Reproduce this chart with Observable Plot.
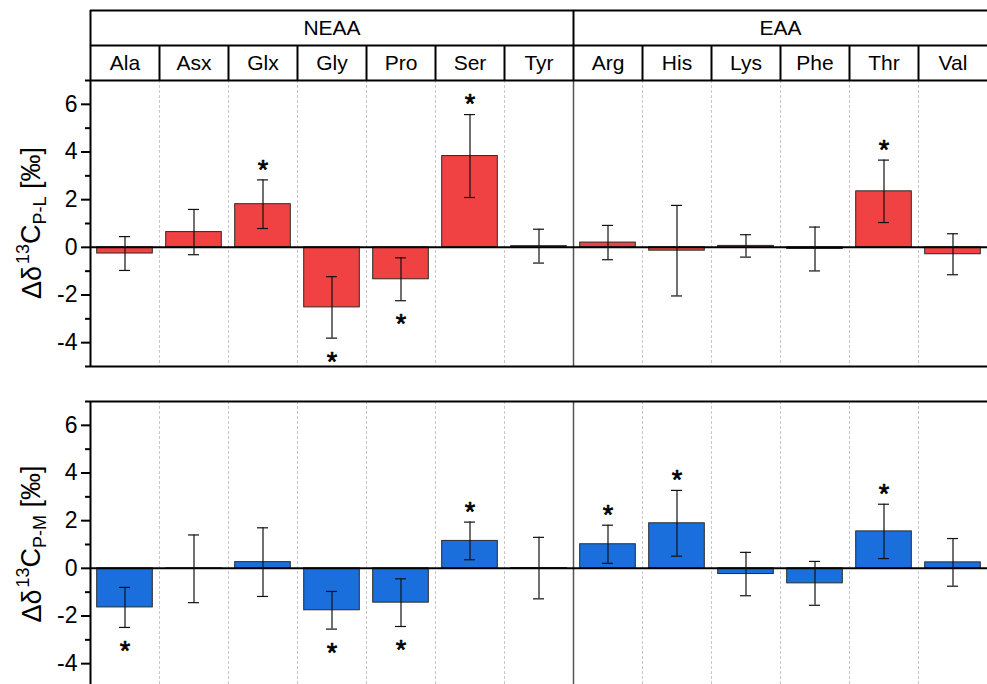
<!DOCTYPE html>
<html><head><meta charset="utf-8">
<script src="https://cdn.jsdelivr.net/npm/d3@7"></script>
<script src="https://cdn.jsdelivr.net/npm/@observablehq/plot@0.6"></script>
<style>
html,body{margin:0;padding:0;background:#fff;overflow:hidden;}
#wrap{position:relative;width:987px;height:684px;overflow:hidden;}
#wrap svg{position:absolute;left:0;overflow:visible;}
</style></head><body><div id="wrap"></div>
<script>
const groups = ["NEAA", "EAA"];
const groupSizes = [7, 6];
const aminoAcids = ["Ala","Asx","Glx","Gly","Pro","Ser","Tyr","Arg","His","Lys","Phe","Thr","Val"];
const plValues = [-0.26, 0.64, 1.81, -2.52, -1.34, 3.83, 0.05, 0.20, -0.14, 0.06, -0.07, 2.35, -0.29];
const plErrors = [0.71, 0.95, 1.02, 1.29, 0.90, 1.74, 0.71, 0.72, 1.90, 0.47, 0.92, 1.31, 0.86];
const plSignif = [0, 0, 1, -1, -1, 1, 0, 0, 0, 0, 0, 1, 0];
const pmValues = [-1.64, -0.02, 0.26, -1.76, -1.44, 1.15, 0.01, 1.01, 1.89, -0.24, -0.63, 1.55, 0.25];
const pmErrors = [0.84, 1.42, 1.44, 0.79, 1.00, 0.79, 1.29, 0.80, 1.38, 0.91, 0.92, 1.14, 1.00];
const pmSignif = [-1, 0, 0, -1, -1, 1, 0, 1, 1, 0, 0, 1, 0];
const yTicks = [-4, -2, 0, 2, 4, 6];
const yMinorTicks = [-5, -3, -1, 1, 3, 5, 7];
const yDomain = [-5, 7];

const FONT = "Liberation Sans, Arial, Helvetica, sans-serif";
const W = 987, ML = 90;
const wrap = document.getElementById("wrap");

// ---------- header ----------
const cum = d3.cumsum(groupSizes);
const groupData = groups.map((g, i) => ({g, x1: cum[i] - groupSizes[i], x2: cum[i]}));
const aaData = aminoAcids.map((aa, i) => ({aa, i}));
const groupEdges = [0, ...cum.slice(0, -1)];
const aaEdges = d3.range(1, aminoAcids.length).filter(i => !groupEdges.includes(i));

const header = Plot.plot({
  width: W, height: 80, marginLeft: ML, marginRight: 0, marginTop: 10, marginBottom: 0,
  x: {domain: [0, aminoAcids.length], axis: null},
  y: {domain: [0, 2], range: [10, 80], axis: null},
  style: {fontFamily: FONT, background: "transparent"},
  marks: [
    Plot.ruleY([0, 1], {x1: 0, x2: aminoAcids.length, stroke: "#000", strokeWidth: 2}),
    Plot.ruleX(groupEdges, {y1: 0, y2: 2, stroke: "#000", strokeWidth: 2}),
    Plot.ruleX(aaEdges, {y1: 1, y2: 2, stroke: "#000", strokeWidth: 2}),
    Plot.text(groupData, {x: d => (d.x1 + d.x2) / 2, y: 0.5, text: "g", fontSize: 21, fill: "#000"}),
    Plot.text(aaData, {x: d => d.i + 0.5, y: 1.5, text: "aa", fontSize: 21, fill: "#000"})
  ]
});
header.style.top = "0px";
wrap.appendChild(header);

// ---------- panels ----------
function panel({values, errors, signif, colour, sub, top, bottomLine}) {
  const data = aminoAcids.map((aa, i) => ({aa, v: values[i], e: errors[i], s: signif[i]}));
  const bw = (W - ML) / aminoAcids.length;
  const capInset = (bw - 11) / 2;
  const groupStarts = groupEdges.slice(1).map(i => aminoAcids[i]);
  const chart = Plot.plot({
    width: W, height: 306, marginLeft: ML, marginRight: 0, marginTop: 10, marginBottom: 10,
    x: {type: "band", domain: aminoAcids, padding: 0, axis: null},
    y: {domain: yDomain, axis: null},
    style: {fontFamily: FONT, background: "transparent"},
    marks: [
      Plot.ruleX(aminoAcids.slice(1).filter(a => !groupStarts.includes(a)),
        {dx: -bw / 2, stroke: "#c8c8c8", strokeWidth: 1, strokeDasharray: "3,2"}),
      Plot.ruleX(groupStarts, {dx: -bw / 2, stroke: "#555", strokeWidth: 1.5}),
      Plot.barY(data, {x: "aa", y: "v", fill: colour, stroke: "#2a2a2a", strokeWidth: 1,
        insetLeft: 6.7, insetRight: 6.7}),
      Plot.ruleY([0], {stroke: "#000", strokeWidth: 2}),
      Plot.ruleX(data, {x: "aa", y1: d => d.v - d.e, y2: d => d.v + d.e, stroke: "#111", strokeWidth: 1.2}),
      Plot.tickY(data, {x: "aa", y: d => d.v + d.e, insetLeft: capInset, insetRight: capInset, stroke: "#111", strokeWidth: 1.2}),
      Plot.tickY(data, {x: "aa", y: d => d.v - d.e, insetLeft: capInset, insetRight: capInset, stroke: "#111", strokeWidth: 1.2}),
      Plot.text(data.filter(d => d.s > 0), {x: "aa", y: d => d.v + d.e, text: () => "*", dy: -10, fontSize: 27, fill: "#000", stroke: "#000", strokeWidth: 0.7}),
      Plot.text(data.filter(d => d.s < 0), {x: "aa", y: d => d.v - d.e, text: () => "*", dy: 24, fontSize: 27, fill: "#000", stroke: "#000", strokeWidth: 0.7}),
      Plot.ruleY([yDomain[1]], {stroke: "#000", strokeWidth: 2}),
      ...(bottomLine ? [Plot.ruleY([yDomain[0]], {stroke: "#000", strokeWidth: 2})] : []),
      Plot.ruleX([aminoAcids[0]], {dx: -bw / 2, y1: yDomain[0], y2: yDomain[1], stroke: "#000", strokeWidth: 2}),
      Plot.axisY(yMinorTicks, {tickSize: 5, text: null, label: null, strokeWidth: 2, stroke: "#000"}),
      Plot.axisY(yTicks, {tickSize: 9, tickPadding: 4, fontSize: 23, label: null, strokeWidth: 2,
        stroke: "#000", fill: "#000", tickFormat: d => String(d)})
    ]
  });
  chart.style.top = top + "px";
  const cy = 10 + 286 / 2;
  const t = d3.select(chart).append("text")
    .attr("transform", `translate(40.5,${cy}) rotate(-90)`)
    .attr("text-anchor", "middle")
    .attr("font-family", FONT)
    .attr("font-size", 27)
    .attr("fill", "#000");
  t.append("tspan").text("Δδ");
  t.append("tspan").attr("font-size", 18).attr("dx", 2).attr("dy", "-0.62em").text("13");
  t.append("tspan").attr("dy", "0.41em").text("C");
  t.append("tspan").attr("font-size", 18).attr("dy", "0.3em").text(sub);
  t.append("tspan").attr("dy", "-0.2em").text(" [‰]");
  wrap.appendChild(chart);
}

panel({values: plValues, errors: plErrors, signif: plSignif, colour: "#f04242", sub: "P-L", top: 70, bottomLine: true});
panel({values: pmValues, errors: pmErrors, signif: pmSignif, colour: "#1a6fdd", sub: "P-M", top: 391, bottomLine: false});
</script>
</body></html>
